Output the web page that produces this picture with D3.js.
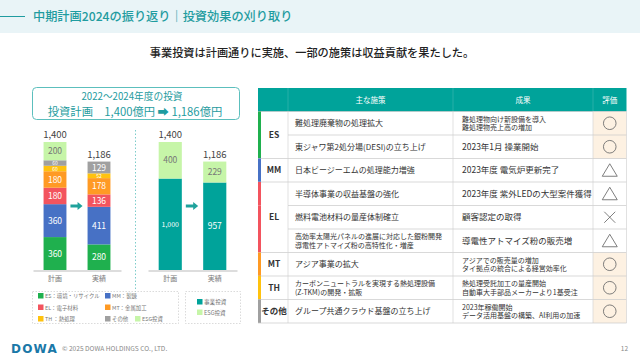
<!DOCTYPE html>
<html><head><meta charset="utf-8">
<script src="https://cdn.jsdelivr.net/npm/d3@7"></script>
<style>
html,body{margin:0;padding:0;background:#fff;}
svg{display:block;font-family:"Noto Sans CJK JP","Noto Sans",sans-serif;}
</style></head>
<body><svg id="c" width="640" height="360"></svg>
<script>
// ---- data ----
const categories = ["計画", "実績"];
const segKeys = ["ES", "MM", "EL", "MT", "TH", "その他", "ESG"];
const segPlan = [360, 360, 180, 180, 60, 60, 200];
const segActual = [280, 411, 136, 178, 52, 129, 0];
const totals = [1400, 1186];
const typeKeys = ["事業投資", "ESG投資"];
const typePlan = [1000, 400];
const typeActual = [957, 229];
const segColors = ["#1fb04e", "#4771c5", "#f3545e", "#ff9a24", "#ffc20e", "#a0a0a0", "#c6f5a8"];
const typeColors = ["#00a39a", "#c6f5a8"];
const legendLeft = ["ES：環境・リサイクル", "MM：製錬", "EL：電子材料", "MT：金属加工", "TH ：熱処理", "その他", "ESG投資"];

const tblSegments = ["ES", "ES", "MM", "EL", "EL", "EL", "MT", "TH", "その他"];
const tblMeasures = [
  ["難処理廃棄物の処理拡大"],
  ["東ジャワ第2処分場(DESI)の立ち上げ"],
  ["日本ビージーエムの処理能力増強"],
  ["半導体事業の収益基盤の強化"],
  ["燃料電池材料の量産体制確立"],
  ["高効率太陽光パネルの進展に対応した銀粉開発", "導電性アトマイズ粉の高特性化・増産"],
  ["アジア事業の拡大"],
  ["カーボンニュートラルを実現する熱処理設備", "(Z-TKM)の開発・拡販"],
  ["グループ共通クラウド基盤の立ち上げ"]
];
const tblResults = [
  ["難処理物向け新設備を導入", "難処理物売上高の増加"],
  ["2023年1月 操業開始"],
  ["2023年度 電気炉更新完了"],
  ["2023年度 紫外LEDの大型案件獲得"],
  ["顧客認定の取得"],
  ["導電性アトマイズ粉の販売増"],
  ["アジアでの販売量の増加", "タイ拠点の統合による経営効率化"],
  ["熱処理受託加工の量産開始", "自動車大手部品メーカーより1基受注"],
  ["2023年稼働開始", "データ活用基盤の構築、AI利用の加速"]
];
const tblRatings = ["○", "○", "△", "△", "×", "△", "○", "○", "○"];
const tblHeaders = ["", "主な施策", "成果", "評価"];
const segLabelColors = {"ES": "#1fb04e", "MM": "#4771c5", "EL": "#f3545e", "MT": "#ff9a24", "TH": "#ffc20e", "その他": "#a0a0a0"};

const svg = d3.select("#c");
const teal = "#1f9ca0";

// ---- header ----
svg.append("rect").attr("x", 0).attr("y", 0).attr("width", 640).attr("height", 33).attr("fill", "#e9f4f7");
svg.append("line").attr("x1", 0).attr("x2", 25).attr("y1", 16.5).attr("y2", 16.5).attr("stroke", teal).attr("stroke-width", 1);
svg.append("text").attr("x", 33).attr("y", 20.8).attr("font-size", 12.2).attr("fill", teal).attr("font-weight", 500)
  .text("中期計画2024の振り返り｜投資効果の刈り取り");
svg.append("text").attr("x", 312).attr("y", 57).attr("text-anchor", "middle").attr("font-size", 11.2).attr("fill", "#222").attr("font-weight", 500)
  .text("事業投資は計画通りに実施、一部の施策は収益貢献を果たした。");

// ---- info box ----
svg.append("rect").attr("x", 32.5).attr("y", 87.5).attr("width", 207).attr("height", 32).attr("rx", 4)
  .attr("fill", "#fff").attr("stroke", "#5cbfbd").attr("stroke-width", 1);
svg.append("text").attr("x", 132).attr("y", 100).attr("text-anchor", "middle").attr("font-size", 9.7).attr("fill", teal).text("2022～2024年度の投資");
svg.append("text").attr("x", 135).attr("y", 115.5).attr("text-anchor", "middle").attr("font-size", 11.3).attr("fill", teal)
  .text("投資計画　1,400億円 ➡ 1,186億円");

// ---- charts ----
const y = d3.scaleLinear().domain([0, 1400]).range([270, 142]);

function drawChart(x0, x1, keys, seriesVals, colors, labelDark) {
  const x = d3.scaleBand().domain(categories).range([x0, x1]).paddingInner(0.48).paddingOuter(0.24);
  const rows = categories.map((c, i) => {
    const o = {cat: c};
    keys.forEach((k, j) => o[k] = seriesVals[i][j]);
    return o;
  });
  const stack = d3.stack().keys(keys)(rows);
  const g = svg.append("g");
  stack.forEach((layer, li) => {
    layer.forEach(d => {
      const v = d[1] - d[0];
      if (v <= 0) return;
      g.append("rect").attr("x", x(d.data.cat)).attr("width", x.bandwidth())
        .attr("y", y(d[1])).attr("height", y(d[0]) - y(d[1])).attr("fill", colors[li]);
      const h = y(d[0]) - y(d[1]);
      const small = h < 7;
      const fs = small ? 5 : (v === 1000 ? 7 : 8.5);
      const base = small ? y(d[0]) - 0.6 : (y(d[0]) + y(d[1])) / 2 + fs * 0.36;
      g.append("text").attr("x", x(d.data.cat) + x.bandwidth() / 2).attr("y", base)
        .attr("text-anchor", "middle").attr("font-size", fs)
        .attr("fill", labelDark(li) ? "#777" : "#fff")
        .text(d3.format(",")(v));
    });
  });
  categories.forEach((c, i) => {
    g.append("text").attr("x", x(c) + x.bandwidth() / 2).attr("y", y(totals[i]) - 4)
      .attr("text-anchor", "middle").attr("font-size", 9.5).attr("fill", "#444").text(d3.format(",")(totals[i]));
  });
  const ax = g.append("g").attr("transform", "translate(0,270.5)")
    .call(d3.axisBottom(x).tickSize(0).tickSizeOuter(0).tickPadding(6));
  ax.select(".domain").attr("stroke", "#bbb");
  ax.selectAll("text").attr("font-size", 7).attr("fill", "#777").attr("font-family", "'Noto Sans CJK JP'");
  // arrow
  const ax0 = x(categories[0]) + x.bandwidth() + 4, ax1 = x(categories[1]) - 5, ay = 206;
  g.append("line").attr("x1", ax0).attr("x2", ax1 - 4).attr("y1", ay).attr("y2", ay).attr("stroke", "#1fa29c").attr("stroke-width", 3);
  g.append("path").attr("d", `M${ax1 - 5},${ay - 4} L${ax1},${ay} L${ax1 - 5},${ay + 4} Z`).attr("fill", "#1fa29c");
}
drawChart(33, 121, segKeys, [segPlan, segActual], segColors, li => li === 6);
drawChart(148, 237, typeKeys, [typePlan, typeActual], typeColors, li => li === 1);

// divider
svg.append("line").attr("x1", 135.5).attr("x2", 135.5).attr("y1", 130).attr("y2", 292)
  .attr("stroke", "#5cbfbd").attr("stroke-dasharray", "1.5,2").attr("stroke-width", 0.8);

// legends
svg.append("rect").attr("x", 32.5).attr("y", 291.5).attr("width", 146).attr("height", 32).attr("fill", "none")
  .attr("stroke", "#ccc").attr("stroke-dasharray", "1.5,1.5").attr("stroke-width", 0.7);
const legPos = [[38, 297], [105, 297], [38, 308.5], [105, 308.5], [38, 320], [105, 320], [135, 320]];
legendLeft.forEach((t, i) => {
  svg.append("rect").attr("x", legPos[i][0]).attr("y", legPos[i][1] - 4).attr("width", 5.5).attr("height", 5.5).attr("fill", segColors[i]);
  svg.append("text").attr("x", legPos[i][0] + 7).attr("y", legPos[i][1] + 1.3).attr("font-size", 5.4).attr("fill", "#777").text(t);
});
svg.append("rect").attr("x", 185.5).attr("y", 291.5).attr("width", 55).attr("height", 32).attr("fill", "none")
  .attr("stroke", "#ccc").attr("stroke-dasharray", "1.5,1.5").attr("stroke-width", 0.7);
typeKeys.forEach((t, i) => {
  const yy = 303 + i * 10.5;
  svg.append("rect").attr("x", 197).attr("y", yy - 4).attr("width", 5.5).attr("height", 5.5).attr("fill", typeColors[i]);
  svg.append("text").attr("x", 204).attr("y", yy + 1.3).attr("font-size", 5.6).attr("fill", "#777").text(t);
});

// ---- table ----
const cols = [258, 288, 453, 593, 626.5];
const headTop = 88, headBot = 111.5, rowH = (323 - headBot) / tblSegments.length;
const tg = svg.append("g");
tg.append("rect").attr("x", cols[0]).attr("y", headTop).attr("width", cols[4] - cols[0]).attr("height", headBot - headTop).attr("fill", "#00a39a");
tblHeaders.forEach((h, i) => {
  if (i > 0 && i < 4) tg.append("line").attr("x1", cols[i]).attr("x2", cols[i]).attr("y1", headTop).attr("y2", headBot).attr("stroke", "#3fbab3").attr("stroke-width", 0.6);
  tg.append("text").attr("x", (cols[i] + cols[i + 1]) / 2).attr("y", (headTop + headBot) / 2 + 2.8).attr("text-anchor", "middle")
    .attr("font-size", 7.5).attr("fill", "#fff").text(h);
});
tblSegments.forEach((s, i) => {
  const y0 = headBot + i * rowH, y1 = y0 + rowH;
  if (tblRatings[i] === "○") tg.append("rect").attr("x", cols[3]).attr("y", y0).attr("width", cols[4] - cols[3]).attr("height", rowH).attr("fill", "#fdf1e2");
  const newSeg = i === 0 || tblSegments[i - 1] !== s;
  tg.append("line").attr("x1", newSeg ? cols[0] : cols[1]).attr("x2", cols[4]).attr("y1", y0).attr("y2", y0).attr("stroke", "#c9c9c9").attr("stroke-width", 0.7);
  [1, 2, 3, 4].forEach(c => tg.append("line").attr("x1", cols[c]).attr("x2", cols[c]).attr("y1", y0).attr("y2", y1).attr("stroke", "#d4d4d4").attr("stroke-width", 0.7));
  tg.append("rect").attr("x", cols[0]).attr("y", y0).attr("width", 3).attr("height", rowH).attr("fill", segLabelColors[s]);
  const cellText = (lines, x, fsOne) => {
    const fs = lines.length > 1 ? 7 : fsOne;
    const t = tg.append("text").attr("x", x).attr("font-size", fs).attr("fill", "#333");
    lines.forEach((l, k) => t.append("tspan").attr("x", x).attr("y", (y0 + y1) / 2 + (k - (lines.length - 1) / 2) * 8.5 + fs * 0.36).text(l));
  };
  cellText(tblMeasures[i], 295, 8);
  cellText(tblResults[i], 462, 8.5);
  const cx = (cols[3] + cols[4]) / 2, cy = (y0 + y1) / 2;
  const sym = tg.append("g").attr("fill", "none").attr("stroke", "#707070").attr("stroke-width", 0.9);
  if (tblRatings[i] === "○") sym.append("circle").attr("cx", cx).attr("cy", cy).attr("r", 6.3);
  else if (tblRatings[i] === "△") sym.append("path").attr("d", `M${cx},${cy - 6.5} L${cx - 7.5},${cy + 6} L${cx + 7.5},${cy + 6} Z`);
  else sym.append("path").attr("d", `M${cx - 5.5},${cy - 5.5} L${cx + 5.5},${cy + 5.5} M${cx + 5.5},${cy - 5.5} L${cx - 5.5},${cy + 5.5}`);
});
tg.append("line").attr("x1", cols[0]).attr("x2", cols[4]).attr("y1", 323).attr("y2", 323).attr("stroke", "#c9c9c9").attr("stroke-width", 0.7);
// merged segment labels
const segGroups = [];
tblSegments.forEach((s, i) => {
  if (i === 0 || tblSegments[i - 1] !== s) segGroups.push({s, start: i, n: 1}); else segGroups[segGroups.length - 1].n++;
});
segGroups.forEach(g => {
  const yc = headBot + (g.start + g.n / 2) * rowH;
  tg.append("text").attr("x", 274).attr("y", yc + 3).attr("text-anchor", "middle").attr("font-size", 8.5).attr("font-weight", 700).attr("fill", "#333").text(g.s);
});

// ---- footer ----
svg.append("text").attr("x", 11).attr("y", 352.5).attr("font-size", 12).attr("font-weight", 900).attr("fill", "#1a78a8")
  .attr("font-family", "'DejaVu Sans'").attr("letter-spacing", 1.2).text("DOWA");
svg.append("text").attr("x", 62).attr("y", 350.5).attr("font-size", 6.6).attr("fill", "#888").text("© 2025 DOWA HOLDINGS CO., LTD.");
svg.append("text").attr("x", 628).attr("y", 350.5).attr("text-anchor", "end").attr("font-size", 6.5).attr("fill", "#888").text("12");
</script></body></html>
